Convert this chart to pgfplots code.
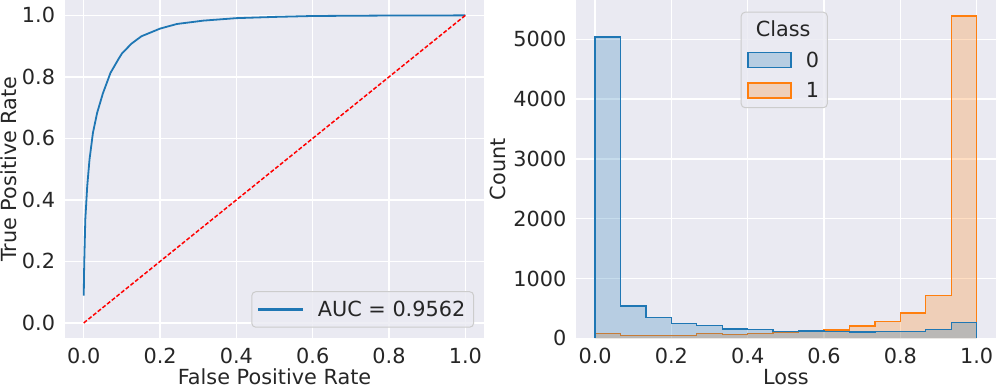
\documentclass[border=0pt]{standalone}
\usepackage{fontspec}
\setmainfont{DejaVu Sans}
\usepackage{pgfplots}
\pgfplotsset{compat=1.18}
\definecolor{bgc}{HTML}{EAEAF2}
\definecolor{txt}{HTML}{262626}
\definecolor{c0}{HTML}{1F77B4}
\definecolor{c1}{HTML}{FF7F0E}
\definecolor{c0l}{RGB}{183,205,226}
\definecolor{c1l}{RGB}{239,207,185}
\definecolor{legedge}{HTML}{CCCCCC}

\pgfplotsset{
  sns/.style={
    scale only axis, width=419.7pt, height=338.3pt,
    axis background/.style={fill=bgc},
    axis line style={draw=none},
    grid=major, grid style={white, line width=1.3pt},
    major tick length=0pt,
    tick label style={font=\fontsize{20.8}{25}\selectfont, text=txt},
    label style={font=\fontsize{20.8}{25}\selectfont, text=txt},
    /pgf/number format/assume math mode=true,
    xmin=-0.05, xmax=1.05,
    xtick={0,0.2,0.4,0.6,0.8,1},
    xticklabel style={anchor=base, yshift=-25pt,
      /pgf/number format/.cd, fixed, fixed zerofill, precision=1, /tikz/.cd},
    yticklabel style={anchor=east, inner sep=0pt, xshift=-9.5pt},
    xlabel style={at={(axis description cs:0.5,-0.138)}, anchor=base},
    legend cell align=left,
    legend style={font=\fontsize{20.8}{25}\selectfont, text=txt,
      draw=legedge, line width=1pt, fill=bgc, fill opacity=0.8,
      text opacity=1, draw opacity=1, rounded corners=4pt,
      inner xsep=6.3pt},
  }
}

\begin{document}
\begin{tikzpicture}
\useasboundingbox (0,0) rectangle (997pt,389pt);

% ROC curve
\begin{axis}[sns,
  at={(64.7pt,50.7pt)}, anchor=south west,
  ymin=-0.05, ymax=1.05,
  ytick={0,0.2,0.4,0.6,0.8,1},
  yticklabel style={/pgf/number format/.cd, fixed, fixed zerofill, precision=1, /tikz/.cd},
  xlabel={False Positive Rate},
  ylabel={True Positive Rate},
  ylabel style={at={(axis description cs:-0.116,0.5)}, anchor=base},
  legend image code/.code={\fill[c0, fill opacity=1, sharp corners] (0pt,-0.9pt) rectangle (43pt,0.9pt);},
  legend style={at={(axis description cs:0.9755,0.0313)}, anchor=south east,
    inner ysep=7.3pt, /tikz/every odd column/.append style={column sep=13pt}},
]
\addplot[c0, line width=1.8pt] coordinates {
  (0,0.089) (0.0005,0.15) (0.0015,0.21) (0.004,0.336) (0.009,0.444)
  (0.015,0.531) (0.024,0.618) (0.035,0.683) (0.050,0.746) (0.070,0.813)
  (0.091,0.858) (0.100,0.876) (0.125,0.908) (0.151,0.932) (0.200,0.957)
  (0.244,0.972) (0.314,0.983) (0.400,0.991) (0.500,0.995) (0.600,0.998)
  (0.800,0.9995) (1,1)
};
\addlegendentry{AUC = 0.9562}
\addplot[red, line width=1.5pt, dash pattern=on 4pt off 2pt, forget plot]
  coordinates {(0,0) (1,1)};
\end{axis}

% loss histogram
\begin{axis}[sns,
  at={(576pt,50.7pt)}, anchor=south west,
  ymin=0, ymax=5657,
  ytick={0,1000,2000,3000,4000,5000},
  yticklabel style={/pgf/number format/1000 sep={}},
  xlabel={Loss},
  ylabel={Count},
  ylabel style={at={(axis description cs:-0.1668,0.5)}, anchor=base},
  legend style={at={(axis description cs:0.3924,0.9654)}, anchor=north west,
    inner ysep=6.8pt, row sep=9.5pt,
    /tikz/every odd column/.append style={column sep=12pt}},
]
\addlegendimage{empty legend}
\addlegendentry{\hspace*{-50pt}Class}
\addlegendimage{legend image code/.code={\draw[draw=c0, fill=c0l, fill opacity=1, line width=1.3pt, sharp corners] (0pt,-7.5pt) rectangle (43pt,7.5pt);}}
\addlegendentry{0}
\addlegendimage{legend image code/.code={\draw[draw=c1, fill=c1l, fill opacity=1, line width=1.3pt, sharp corners] (0pt,-7.5pt) rectangle (43pt,7.5pt);}}
\addlegendentry{1}
% class 1 (drawn first)
\addplot[const plot, draw=c1, line width=1.3pt, fill=c1, fill opacity=0.25, forget plot]
  coordinates {
  (0,0) (0,78) (0.0667,45) (0.1333,50) (0.2,50) (0.2667,78) (0.3333,67)
  (0.4,78) (0.4667,105) (0.5333,115) (0.6,140) (0.6667,206) (0.7333,285)
  (0.8,424) (0.8667,714) (0.9333,5390) (1,5390) (1,0)
};
% class 0
\addplot[const plot, draw=c0, line width=1.3pt, fill=c0, fill opacity=0.25, forget plot]
  coordinates {
  (0,0) (0,5040) (0.0667,541) (0.1333,352) (0.2,245) (0.2667,212) (0.3333,156)
  (0.4,151) (0.4667,112) (0.5333,123) (0.6,117) (0.6667,106) (0.7333,112)
  (0.8,112) (0.8667,145) (0.9333,268) (1,268) (1,0)
};
\end{axis}
\end{tikzpicture}
\end{document}
